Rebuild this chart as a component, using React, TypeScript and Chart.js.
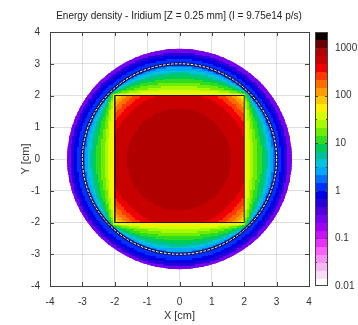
import React, { useEffect, useRef } from 'react';
import { Chart, registerables } from 'chart.js';

Chart.register(...registerables);

// ---------- text ----------
const TITLE = 'Energy density - Iridium [Z = 0.25 mm] (I = 9.75e14 p/s)';
const X_TITLE = 'X [cm]';
const Y_TITLE = 'Y [cm]';

// ---------- axes ----------
const AXIS_MIN = -4;
const AXIS_MAX = 4;
const CB_TICKS = [0.01, 0.1, 1, 10, 100, 1000];
const CB_LOG_MIN = -2;
const CB_LEVELS = 32;
const CB_LEVEL_STEP = 1 / 6; // decades per colour level
const CB_MIN = 0.01;
const CB_MAX = Math.pow(10, CB_LOG_MIN + CB_LEVELS * CB_LEVEL_STEP);

// ---------- geometry (cm) ----------
const squareX = [-2, 2, 2, -2, -2];
const squareY = [-2, -2, 2, 2, -2];
const SQUARE_HALF = 2;
const VESSEL_RADIUS = 3.47;
const RING_RADIUS = 3.0;
const CELL = 0.05;

// ---------- energy density ----------
// inside the square: outer radius of each band and its value
const innerRadii = [1.6, 2.12, 2.3, 2.44, 2.56, 2.66, 2.75, 2.9];
const innerValues = [830, 560, 380, 260, 178, 121, 83, 56];
// between the square edge and the ring: fraction of the gap, value
const gapFractions = [0.12, 0.2, 0.3, 0.42, 0.55, 0.65, 0.74, 0.82, 0.9, 0.96, 1.0];
const gapValues = [56, 38, 26, 18, 12, 8.3, 5.6, 3.8, 2.6, 1.8, 1.2];
// beyond the ring: outer radius of each band, value
const outerRadii = [3.15, 3.26, 3.36, 3.47];
const outerValues = [1.2, 0.83, 0.5, 0.3];

// colour levels, lowest first
const palette = [
  '#ffffff', '#f8dcf8', '#f4b8f4', '#f890f8', '#f860f8', '#e830f8', '#c810f8', '#a000f8',
  '#7800f0', '#5000e0', '#2800d8', '#0000e8', '#0030ff', '#0070ff', '#00a8ff', '#00c4d8',
  '#00c098', '#00cc58', '#30dc20', '#70ec00', '#a8f800', '#d8ff00', '#fff000', '#ffc800',
  '#ff9c00', '#ff6c00', '#ff3800', '#f00000', '#c80000', '#b00000', '#6c0000', '#0a0000',
];

function lookup(limits: number[], values: number[], v: number) {
  for (let k = 0; k < limits.length; k++) if (v <= limits[k]) return values[k];
  return values[values.length - 1];
}

function fieldValue(x: number, y: number): number | null {
  const r = Math.hypot(x, y);
  if (r > VESSEL_RADIUS + CELL) return null;
  const m = Math.max(Math.abs(x), Math.abs(y));
  if (m <= SQUARE_HALF) return lookup(innerRadii, innerValues, r);
  if (r < RING_RADIUS) {
    const rs = (SQUARE_HALF * r) / m;
    const s = (r - rs) / (RING_RADIUS - rs);
    return lookup(gapFractions, gapValues, s);
  }
  return lookup(outerRadii, outerValues, r);
}

function colorFor(v: number) {
  let idx = Math.floor((Math.log10(v) - CB_LOG_MIN) / CB_LEVEL_STEP);
  idx = Math.max(0, Math.min(CB_LEVELS - 1, idx));
  return palette[idx];
}

const FONT = "'Liberation Sans', Arial, sans-serif";
const TEXT = '#333333';

export default function App() {
  const ref = useRef<HTMLCanvasElement>(null);

  useEffect(() => {
    const canvas = ref.current;
    if (!canvas) return;

    const heatPlugin = {
      id: 'heatmap',
      beforeDatasetsDraw(chart: any) {
        const { ctx, scales } = chart;
        const xs = scales.x;
        const ys = scales.y;
        const cxp = xs.getPixelForValue(0);
        const cyp = ys.getPixelForValue(0);
        ctx.save();
        ctx.beginPath();
        ctx.ellipse(
          cxp,
          cyp,
          Math.abs(xs.getPixelForValue(VESSEL_RADIUS) - cxp),
          Math.abs(ys.getPixelForValue(VESSEL_RADIUS) - cyp),
          0, 0, Math.PI * 2,
        );
        ctx.clip();
        const n = Math.round((AXIS_MAX - AXIS_MIN) / CELL);
        for (let i = 0; i < n; i++) {
          const cx = AXIS_MIN + (i + 0.5) * CELL;
          const px0 = Math.floor(xs.getPixelForValue(cx - CELL / 2));
          const px1 = Math.ceil(xs.getPixelForValue(cx + CELL / 2));
          for (let j = 0; j < n; j++) {
            const cy = AXIS_MIN + (j + 0.5) * CELL;
            const v = fieldValue(cx, cy);
            if (v == null) continue;
            const py0 = Math.floor(ys.getPixelForValue(cy + CELL / 2));
            const py1 = Math.ceil(ys.getPixelForValue(cy - CELL / 2));
            ctx.fillStyle = colorFor(v);
            ctx.fillRect(px0, py0, px1 - px0, py1 - py0);
          }
        }
        // ring
        const rx = Math.abs(xs.getPixelForValue(RING_RADIUS) - cxp);
        const ry = Math.abs(ys.getPixelForValue(RING_RADIUS) - cyp);
        ctx.beginPath();
        ctx.ellipse(cxp, cyp, rx, ry, 0, 0, Math.PI * 2);
        ctx.strokeStyle = '#16125e';
        ctx.lineWidth = 3.2;
        ctx.stroke();
        ctx.beginPath();
        ctx.ellipse(cxp, cyp, rx, ry, 0, 0, Math.PI * 2);
        ctx.setLineDash([2.5, 1.5]);
        ctx.strokeStyle = '#ffffff';
        ctx.lineWidth = 1;
        ctx.stroke();
        ctx.restore();
      },
      afterDraw(chart: any) {
        const { ctx, chartArea, scales } = chart;
        const { left, right, top, bottom } = chartArea;
        ctx.save();
        ctx.strokeStyle = '#444444';
        ctx.lineWidth = 1;
        ctx.strokeRect(Math.round(left) + 0.5, Math.round(top) + 0.5, Math.round(right - left), Math.round(bottom - top));
        // inward ticks on all four sides
        const TL = 4;
        ctx.beginPath();
        for (let v = AXIS_MIN + 1; v < AXIS_MAX; v++) {
          const px = Math.round(scales.x.getPixelForValue(v)) + 0.5;
          ctx.moveTo(px, bottom); ctx.lineTo(px, bottom - TL);
          ctx.moveTo(px, top); ctx.lineTo(px, top + TL);
          const py = Math.round(scales.y.getPixelForValue(v)) + 0.5;
          ctx.moveTo(left, py); ctx.lineTo(left + TL, py);
          ctx.moveTo(right, py); ctx.lineTo(right - TL, py);
        }
        ctx.stroke();

        // colour bar
        const cb = scales.cb;
        const bx = Math.round(right) + 6;
        const bw = 13;
        for (let i = 0; i < CB_LEVELS; i++) {
          const lo = Math.pow(10, CB_LOG_MIN + i * CB_LEVEL_STEP);
          const hi = Math.pow(10, CB_LOG_MIN + (i + 1) * CB_LEVEL_STEP);
          const y0 = Math.floor(cb.getPixelForValue(hi));
          const y1 = Math.ceil(cb.getPixelForValue(lo));
          ctx.fillStyle = palette[i];
          ctx.fillRect(bx, y0, bw, y1 - y0);
        }
        const cbTop = Math.round(cb.getPixelForValue(CB_MAX));
        const cbBot = Math.round(cb.getPixelForValue(CB_MIN));
        ctx.strokeStyle = '#444444';
        ctx.strokeRect(bx + 0.5, cbTop + 0.5, bw - 1, cbBot - cbTop - 1);
        ctx.beginPath();
        for (let e = CB_LOG_MIN + 0.5; e < CB_LOG_MIN + CB_LEVELS * CB_LEVEL_STEP; e += 0.5) {
          const py = Math.round(cb.getPixelForValue(Math.pow(10, e))) + 0.5;
          const len = Math.abs(e - Math.round(e)) < 1e-6 ? 3 : 2;
          ctx.moveTo(bx, py); ctx.lineTo(bx + len, py);
          ctx.moveTo(bx + bw, py); ctx.lineTo(bx + bw - len, py);
        }
        ctx.stroke();
        ctx.restore();
      },
    };

    const tickFont = { family: FONT, size: 10 };
    const chart = new Chart(canvas, {
      type: 'scatter',
      data: {
        datasets: [
          {
            data: squareX.map((x, k) => ({ x, y: squareY[k] })),
            showLine: true,
            borderColor: '#1a1a1a',
            borderWidth: 1,
            pointRadius: 0,
            fill: false,
          },
        ],
      },
      options: {
        responsive: false,
        animation: false,
        devicePixelRatio: 1,
        layout: { padding: 0 },
        plugins: {
          legend: { display: false },
          tooltip: { enabled: false },
          title: {
            display: true,
            text: TITLE,
            color: '#222222',
            font: { family: FONT, size: 10, weight: 'normal' },
            padding: { top: 5, bottom: 10 },
          },
        },
        scales: {
          x: {
            type: 'linear',
            min: AXIS_MIN,
            max: AXIS_MAX,
            ticks: { stepSize: 1, color: TEXT, font: tickFont, padding: 10 },
            grid: { color: 'rgba(0,0,0,0.12)', drawTicks: false },
            border: { color: '#444444' },
            title: { display: true, text: X_TITLE, color: TEXT, font: { family: FONT, size: 11 }, padding: { top: 0, bottom: 2 } },
            afterFit: (s: any) => { s.height = 39; },
          },
          y: {
            type: 'linear',
            min: AXIS_MIN,
            max: AXIS_MAX,
            ticks: { stepSize: 1, color: TEXT, font: tickFont, padding: 10 },
            grid: { color: 'rgba(0,0,0,0.12)', drawTicks: false },
            border: { color: '#444444' },
            title: { display: true, text: Y_TITLE, color: TEXT, font: { family: FONT, size: 11 }, padding: { top: 19, bottom: 0 } },
            afterFit: (s: any) => { s.width = 50; },
          },
          cb: {
            type: 'logarithmic',
            position: 'right',
            min: CB_MIN,
            max: CB_MAX,
            grid: { display: false, drawTicks: false },
            border: { display: false },
            ticks: { color: TEXT, font: tickFont, padding: 26, callback: (v: any) => String(v) },
            afterBuildTicks: (s: any) => { s.ticks = CB_TICKS.map((value) => ({ value })); },
            afterFit: (s: any) => { s.width = 49; },
          },
        },
      } as any,
      plugins: [heatPlugin],
    });
    return () => chart.destroy();
  }, []);

  return (
    <div style={{ position: 'fixed', left: 0, top: 0, width: 358, height: 325, background: '#ffffff' }}>
      <canvas ref={ref} width={358} height={325} style={{ width: 358, height: 325, display: 'block' }} />
    </div>
  );
}
